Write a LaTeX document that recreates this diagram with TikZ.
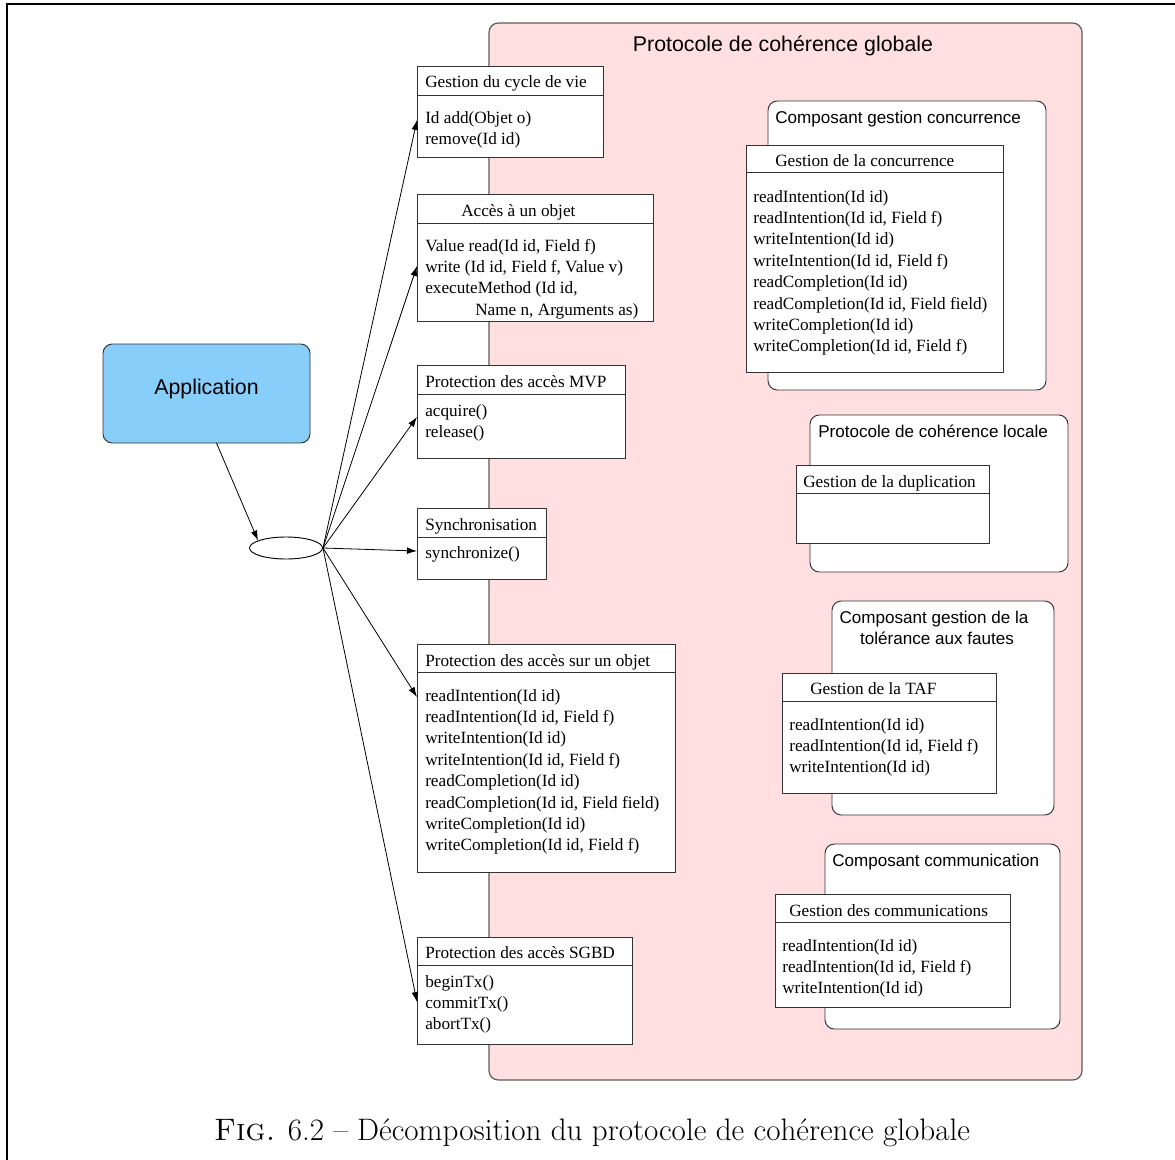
\documentclass[tikz,border=0pt]{standalone}
\usepackage{fontspec}
\usetikzlibrary{shapes.geometric,arrows.meta,calc}
\newfontfamily\tmsfont{Liberation Serif}
\newfontfamily\arfont{Liberation Sans}
\definecolor{pinkfill}{HTML}{FFDFE0}
\definecolor{bluefill}{HTML}{87CEFA}
\definecolor{edge}{HTML}{333333}
\tikzset{
  umlb/.style={draw=edge, fill=white, anchor=north west, inner sep=0, outer sep=0, line width=0.7pt},
  compb/.style={draw=edge, fill=white, anchor=north west, inner sep=0, outer sep=0, line width=0.7pt, rounded corners=7pt},
  pinkb/.style={draw=edge!80, fill=pinkfill, anchor=north west, inner sep=0, outer sep=0, line width=0.9pt, rounded corners=7pt},
  appb/.style={draw=edge, fill=bluefill, anchor=north west, inner sep=0, outer sep=0, line width=0.7pt, rounded corners=7pt},
  divline/.style={draw=edge, line width=0.7pt},
  st/.style={anchor=base west, inner sep=0, yshift=-0.75pt, font=\tmsfont\fontsize{12.9}{15}\selectfont},
  ss/.style={anchor=base west, inner sep=0, font=\arfont\fontsize{12.8}{15}\selectfont},
  ssbig/.style={anchor=base, inner sep=0, font=\arfont\fontsize{16}{19}\selectfont},
  arr/.style={-{Latex[length=7.5pt,width=5pt]}, line width=0.6pt, black},
}
\newcommand\umlbox[6]{%
  \node[umlb, minimum width={(#4-#2)*0.75pt}, minimum height={(#5-#3)*0.75pt}] (#1) at (#2,#3) {};
  \draw[divline] (#2,#6) -- (#4,#6);}
\newcommand\compbox[5]{%
  \node[compb, minimum width={(#4-#2)*0.75pt}, minimum height={(#5-#3)*0.75pt}] (#1) at (#2,#3) {};}
\newcommand\mlist[4]{%
  \foreach \t [count=\i from 0] in {#4}{\node[st] (#1-\i) at (#2,{#3+21.4*\i}) {\t};}}
\begin{document}
\begin{tikzpicture}[x=0.75pt,y=-0.75pt]
\useasboundingbox (0,0) rectangle (1175,1160);
% frame
\draw[line width=1.5pt] (7,1160) -- (7,4) -- (1175,4);
% global protocol
\node[pinkb, minimum width={593*0.75pt}, minimum height={1057*0.75pt}] (glob) at (489,23) {};
\node[ssbig] (globt) at (783,51) {Protocole de cohérence globale};
% application
\node[appb, minimum width={207*0.75pt}, minimum height={99*0.75pt}] (app) at (103,344) {};
\node[ssbig] (appt) at (206.5,394) {Application};
\node[draw=black, line width=0.7pt, fill=white, ellipse, minimum width={73*0.75pt}, minimum height={22*0.75pt}, inner sep=0] (ell) at (286,548) {};
% left boxes
\umlbox{b1}{417}{66}{603}{157}{95}
\node[st] (b1t) at (425,86) {Gestion du cycle de vie};
\mlist{b1m}{425}{122}{{Id add(Objet o)},{remove(Id id)}}
\umlbox{b2}{417}{194}{653}{321}{223}
\node[st] (b2t) at (461,215) {Accès à un objet};
\mlist{b2m}{425}{250}{{Value read(Id id, Field f)},{write (Id id, Field f, Value v)},{executeMethod (Id id,}}
\node[st] (b2m-3) at (475,314.2) {Name n, Arguments as)};
\umlbox{b3}{417}{365}{625}{458}{394}
\node[st] (b3t) at (425,386) {Protection des accès MVP};
\mlist{b3m}{425}{415}{{acquire()},{release()}}
\umlbox{b4}{417}{508}{546}{579}{537}
\node[st] (b4t) at (425,529) {Synchronisation};
\mlist{b4m}{425}{557}{{synchronize()}}
\umlbox{b5}{417}{644}{675}{872}{672}
\node[st] (b5t) at (425,665) {Protection des accès sur un objet};
\mlist{b5m}{425}{700}{{readIntention(Id id)},{readIntention(Id id, Field f)},{writeIntention(Id id)},{writeIntention(Id id, Field f)},{readCompletion(Id id)},{readCompletion(Id id, Field field)},{writeCompletion(Id id)},{writeCompletion(Id id, Field f)}}
\umlbox{b6}{417}{937}{632}{1044}{965}
\node[st] (b6t) at (425,957) {Protection des accès SGBD};
\mlist{b6m}{425}{986}{{beginTx()},{commitTx()},{abortTx()}}
% right components
\compbox{ca}{768}{101}{1046}{390}
\node[ss] (cat) at (775,123) {Composant gestion concurrence};
\umlbox{ia}{746}{145}{1003}{372}{172}
\node[st] (iat) at (775,165) {Gestion de la concurrence};
\mlist{iam}{753}{201}{{readIntention(Id id)},{readIntention(Id id, Field f)},{writeIntention(Id id)},{writeIntention(Id id, Field f)},{readCompletion(Id id)},{readCompletion(Id id, Field field)},{writeCompletion(Id id)},{writeCompletion(Id id, Field f)}}
\compbox{cb}{810}{415}{1068}{572}
\node[ss] (cbt) at (818,437) {Protocole de cohérence locale};
\umlbox{ib}{796}{465}{989}{543}{493}
\node[st] (ibt) at (803,486) {Gestion de la duplication};
\compbox{cc}{832}{601}{1054}{815}
\node[ss, anchor=base] (cct1) at (934,623) {Composant gestion de la};
\node[ss, anchor=base] (cct2) at (937,644) {tolérance aux fautes};
\umlbox{ic}{782}{673}{996}{793}{701}
\node[st] (ict) at (810,693) {Gestion de la TAF};
\mlist{icm}{789}{729}{{readIntention(Id id)},{readIntention(Id id, Field f)},{writeIntention(Id id)}}
\compbox{cd}{825}{844}{1060}{1029}
\node[ss] (cdt) at (832,866) {Composant communication};
\umlbox{id}{775}{894}{1010}{1007}{922}
\node[st] (idt) at (789,915) {Gestion des communications};
\mlist{idm}{782}{950}{{readIntention(Id id)},{readIntention(Id id, Field f)},{writeIntention(Id id)}}
% connectors
\draw[arr] ($(app.south)+(10,0)$) -- (ell.165);
\draw[arr] (ell.east) -- ($(b1.north west)+(0,54)$);
\draw[arr] (ell.east) -- ($(b2.north west)+(0,72)$);
\draw[arr] (ell.east) -- ($(b3.north west)+(0,52)$);
\draw[arr] (ell.east) -- ($(b4.north west)+(0,43)$);
\draw[arr] (ell.east) -- ($(b5.north west)+(0,53)$);
\draw[arr] (ell.east) -- ($(b6.north west)+(0,65)$);
% caption
\node[anchor=base, inner sep=0, font=\fontsize{23.3}{27}\selectfont] (cap) at (592,1140) {\textsc{Fig.} 6.2 -- Décomposition du protocole de cohérence globale};
\end{tikzpicture}
\end{document}
